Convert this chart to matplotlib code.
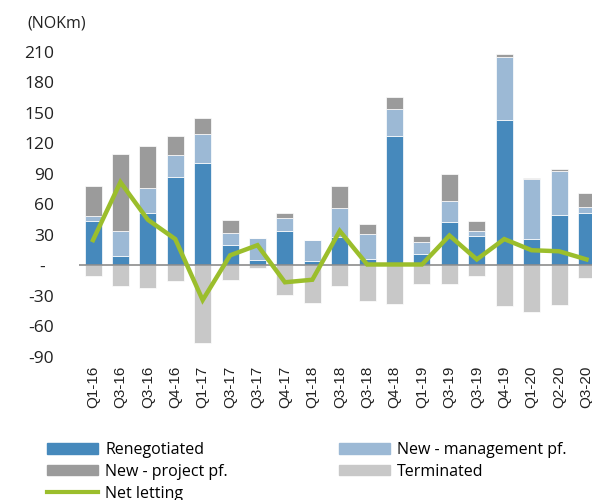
import matplotlib
matplotlib.use("Agg")
import matplotlib.pyplot as plt
from matplotlib.patches import Patch
from matplotlib.lines import Line2D
import numpy as np

quarters = ["Q1-16", "Q3-16", "Q3-16", "Q4-16", "Q1-17", "Q3-17", "Q3-17", "Q4-17",
            "Q1-18", "Q3-18", "Q3-18", "Q4-18", "Q1-19", "Q3-19", "Q3-19", "Q4-19",
            "Q1-20", "Q2-20", "Q3-20"]
renegotiated = [44, 9, 52, 87, 101, 20, 5.5, 34, 4, 28, 6, 127.5, 11, 42.5, 29, 143, 26, 49.5, 51.5]
new_management = [5, 24.5, 24.5, 21.5, 28, 12, 21.5, 13, 21, 29, 25, 26.5, 12.5, 20.5, 4.5, 62, 59, 43, 6.5]
new_project = [29, 76.5, 41, 19, 16.5, 12.5, 0, 5, 0, 21.5, 10, 12, 6, 27, 10, 3.5, 1.5, 2, 13]
terminated = [-10, -20, -22, -15.5, -76, -14, -2, -29, -36.5, -20.5, -35, -38, -18, -18.5, -10.5, -40, -45.5, -38.5, -12.5]
net_letting = [25, 82, 45, 26, -34, 10, 20, -16.5, -14, 34, 1, 1, 1, 29.5, 6, 26, 15, 14, 6]
y_ticks = [-90, -60, -30, 0, 30, 60, 90, 120, 150, 180, 210]

c_ren = "#4689BC"
c_mgmt = "#9CB9D5"
c_proj = "#9B9B9B"
c_term = "#C8C8C8"
c_net = "#9BBE2C"

plt.rcParams['font.family'] = ['Open Sans', 'DejaVu Sans']

fig = plt.figure(figsize=(5.92, 5.0), dpi=100)
ax = fig.add_axes([79.3 / 592, 1 - 357 / 500, (600.2 - 79.3) / 592, (357 - 52) / 500])

x = np.arange(len(quarters))
w = 0.62
ren = np.array(renegotiated)
mg = np.array(new_management)
pr = np.array(new_project)
ax.bar(x, ren, w, color=c_ren, edgecolor="white", linewidth=0.5, zorder=2)
ax.bar(x, mg, w, bottom=ren, color=c_mgmt, edgecolor="white", linewidth=0.5, zorder=2)
ax.bar(x, pr, w, bottom=ren + mg, color=c_proj, edgecolor="white", linewidth=0.5, zorder=2)
ax.bar(x, terminated, w, color=c_term, edgecolor="white", linewidth=0.5, zorder=2)
ax.axhline(0, color="#8C8C8C", linewidth=1.2, zorder=3)
ax.plot(x, net_letting, color=c_net, linewidth=3.2, zorder=4, solid_joinstyle="miter")

ax.set_xlim(-0.5, len(quarters) - 0.5)
ax.set_ylim(-90, 210)
ax.set_yticks(y_ticks)
ax.set_yticklabels([("-  " if v == 0 else str(v)) for v in y_ticks], fontsize=12.5, color="#222222")
ax.set_xticks(x)
ax.set_xticklabels(quarters, rotation=90, fontsize=11, family=["Liberation Sans", "DejaVu Sans"], color="#222222")
ax.tick_params(axis="y", length=0, pad=18)
ax.tick_params(axis="x", length=0, pad=6)
for s in ax.spines.values():
    s.set_visible(False)

fig.text(27 / 592, 1 - 23 / 500, "(NOKm)", fontsize=11.5, va="center", ha="left", color="#222222")

leg_kw = dict(loc="upper left", frameon=False, fontsize=11.5, handlelength=3.2, handleheight=0.62,
              handletextpad=0.45, labelspacing=0.36, borderpad=0, borderaxespad=0)
h1 = [Patch(color=c_ren), Patch(color=c_proj), Line2D([0], [0], color=c_net, linewidth=3)]
l1 = ["Renegotiated", "New - project pf.", "Net letting"]
h2 = [Patch(color=c_mgmt), Patch(color=c_term)]
l2 = ["New - management pf.", "Terminated"]
fig.legend(h1, l1, bbox_to_anchor=(47 / 592, 1 - 442 / 500), **leg_kw)
fig.legend(h2, l2, bbox_to_anchor=(339 / 592, 1 - 442 / 500), **leg_kw)

fig.savefig("out.png", dpi=100)
